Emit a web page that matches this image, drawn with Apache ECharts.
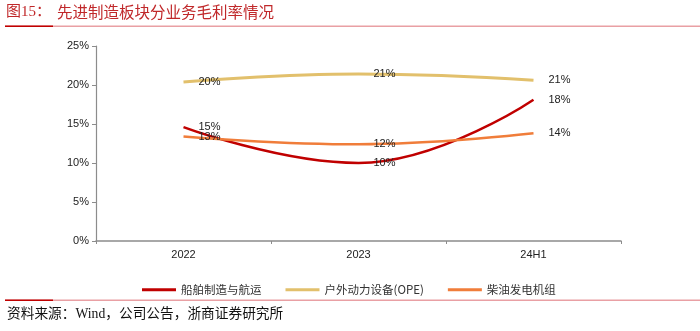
<!DOCTYPE html>
<html>
<head>
<meta charset="utf-8">
<script src="https://cdn.jsdelivr.net/npm/echarts@6/dist/echarts.min.js"></script>
<style>
html,body{margin:0;padding:0;background:#fff;}
#chart{width:700px;height:331px;}
</style>
</head>
<body>
<div id="chart"></div>
<script>
var categories = ['2022', '2023', '24H1'];
var shipbuilding = [14.6, 10.0, 18.1];
var ope = [20.4, 21.4, 20.6];
var diesel = [13.4, 12.4, 13.8];
var seriesNames = ['船舶制造与航运', '户外动力设备(OPE)', '柴油发电机组'];
var seriesColors = ['#C00000', '#E2C06C', '#F07D3A'];
var yTicks = [0, 5, 10, 15, 20, 25];

var chart = echarts.init(document.getElementById('chart'), null, {renderer: 'canvas'});

function makeSeries(name, data, color, width) {
  return {
    name: name,
    type: 'line',
    data: data,
    smooth: 0.45,
    symbol: 'circle',
    symbolSize: 0.01,
    showSymbol: true,
    lineStyle: {color: color, width: width},
    itemStyle: {color: color},
    label: {
      show: true,
      position: 'right',
      distance: 15,
      offset: [0, 1.5],
      color: '#222',
      fontFamily: 'Liberation Sans',
      fontSize: 11,
      formatter: function (p) { return Math.round(p.value) + '%'; }
    },
    labelLayout: {hideOverlap: false},
    emphasis: {disabled: true}
  };
}

var option = {
  animation: false,
  backgroundColor: '#fff',
  grid: {left: 96, right: 79, top: 46, bottom: 90, containLabel: false},
  legend: {
    left: 137,
    top: 279,
    itemWidth: 34,
    itemHeight: 3,
    itemGap: 24,
    icon: 'rect',
    textStyle: {fontSize: 11.5, color: '#333', fontFamily: 'Noto Sans CJK SC'},
    data: seriesNames
  },
  xAxis: {
    type: 'category',
    data: categories,
    boundaryGap: true,
    axisLine: {show: true, lineStyle: {color: '#8c8c8c', width: 1.5}},
    axisTick: {show: true, length: 3, lineStyle: {color: '#8c8c8c'}},
    axisLabel: {color: '#222', fontSize: 11, fontFamily: 'Liberation Sans', margin: 8},
    splitLine: {show: false}
  },
  yAxis: {
    type: 'value',
    min: yTicks[0],
    max: yTicks[yTicks.length - 1],
    interval: 5,
    axisLine: {show: true, lineStyle: {color: '#8c8c8c', width: 1.2}},
    axisTick: {show: true, length: 4, lineStyle: {color: '#8c8c8c'}},
    axisLabel: {color: '#222', fontSize: 11, fontFamily: 'Liberation Sans', margin: 7, formatter: '{value}%'},
    splitLine: {show: false}
  },
  series: [
    makeSeries(seriesNames[0], shipbuilding, seriesColors[0], 2.5),
    makeSeries(seriesNames[1], ope, seriesColors[1], 3),
    makeSeries(seriesNames[2], diesel, seriesColors[2], 2.5)
  ],
  graphic: [
    {type: 'text', left: 6, top: 5, style: {text: '图15：', fill: '#C0282A', font: '15px "Liberation Serif", "Noto Sans CJK SC"'}},
    {type: 'text', left: 57, top: 4, style: {text: '先进制造板块分业务毛利率情况', fill: '#C0282A', font: '15.5px "Noto Sans CJK SC"'}},
    {type: 'rect', shape: {x: 5, y: 25.5, width: 695, height: 1.5}, style: {fill: '#E9A0A4'}},
    {type: 'rect', shape: {x: 5, y: 25.5, width: 48, height: 1.5}, style: {fill: '#C00000'}},
    {type: 'rect', shape: {x: 5, y: 299.5, width: 695, height: 1.5}, style: {fill: '#E9A0A4'}},
    {type: 'rect', shape: {x: 5, y: 299.5, width: 48, height: 1.5}, style: {fill: '#C00000'}},
    {type: 'text', left: 7, top: 308, style: {text: '资料来源：Wind，公司公告，浙商证券研究所', fill: '#111', font: '13.7px "Liberation Serif", "Noto Sans CJK SC"'}}
  ]
};
chart.setOption(option);
</script>
</body>
</html>
